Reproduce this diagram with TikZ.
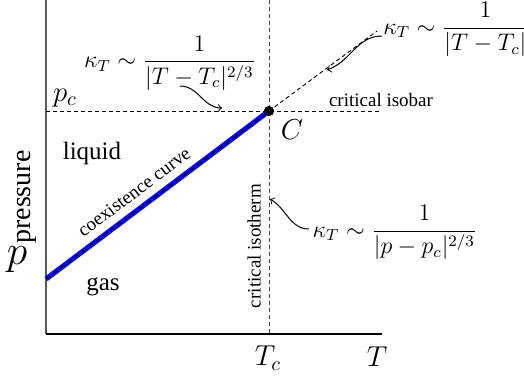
\documentclass[tikz,border=0pt]{standalone}
\usepackage[no-math]{fontspec}
\setmainfont{Liberation Serif}
\definecolor{cvblue}{RGB}{10,10,225}
\begin{document}
\begin{tikzpicture}[x=0.5pt,y=-0.5pt,
  lbl/.style={font=\fontsize{12.5}{14}\selectfont, inner sep=0},
  small/.style={font=\fontsize{9.5}{11}\selectfont, inner sep=0},
  frm/.style={font=\fontsize{12}{14}\selectfont, inner sep=0},
  axlbl/.style={font=\fontsize{14.5}{17}\selectfont, inner sep=0},
  dsh/.style={dash pattern=on 2pt off 1.5pt, line width=0.45pt},
  carrow/.style={->, line width=0.5pt}]
\useasboundingbox (0,0) rectangle (524,377);
% axes
\coordinate (O) at (46,334);
\coordinate (ytop) at (46,0);
\coordinate (xend) at (382,334);
\draw[black!65, line width=0.8pt] (O) -- (ytop);
\draw[black, line width=0.8pt] (O) -- (xend);
% critical point
\node[circle, fill, inner sep=0, minimum size=5pt] (C) at (269,111) {};
\coordinate (vtop) at (269,0);
\coordinate (vbot) at (269,334);
\coordinate (hl) at (46,111);
\coordinate (hr) at (380,111);
\coordinate (ext) at (377,31);
\coordinate (start) at (46,279);
\draw[dsh, black!70] (vtop) -- (vbot);
\draw[dsh] (hl) -- (hr);
\draw[dsh] (C.center) -- (ext);
% coexistence curve
\draw[line width=2.6pt, cvblue] (start) -- (C.center);
\draw[dash pattern=on 2.5pt off 2pt, line width=0.5pt] (start) -- (C.center);
\node[circle, fill, inner sep=0, minimum size=5pt] at (C) {};
% labels
\node[lbl] (liquid) at (92,153) {liquid};
\node[lbl] (gas) at (103,287) {gas};
\node[inner sep=0, font=\fontsize{20}{24}\selectfont] (plab) at (17,260) {$p$};
\node[rotate=90, inner sep=0, font=\fontsize{14}{16}\selectfont] (pressure) at (27,197) {pressure};
\node[small, rotate=37] (coex) at (134,192) {coexistence curve};
\node[small] (isobar) at (381,100) {critical isobar};
\node[small, rotate=90] (isotherm) at (254,246) {critical isotherm};
\node[axlbl] (Cl) at (292,130) {$C$};
\node[axlbl] (pc) at (65,98) {$p_c$};
\node[axlbl] (Tc) at (268,358) {$T_c$};
\node[axlbl] (T) at (377,357) {$T$};
% formulas
\node[frm] (k1) at (170,63) {$\kappa_T\sim\displaystyle\frac{1}{|T-T_c|^{2/3}}$};
\node[frm] (k2) at (456,29.5) {$\kappa_T\sim\displaystyle\frac{1}{|T-T_c|}$};
\node[frm] (k3) at (395,232.5) {$\kappa_T\sim\displaystyle\frac{1}{|p-p_c|^{2/3}}$};
% arrows
\coordinate (a1s) at (180,86);
\coordinate (a1e) at (222,108);
\coordinate (a2s) at (382,36);
\coordinate (a2e) at (327,70);
\coordinate (a3s) at (309,229);
\coordinate (a3e) at (270,199);
\draw[carrow] (a1s) to[out=0, in=180] (a1e);
\draw[carrow] (a2s) to[out=180, in=20] (a2e);
\draw[carrow] (a3s) to[out=180, in=-30] (a3e);
\end{tikzpicture}
\end{document}
